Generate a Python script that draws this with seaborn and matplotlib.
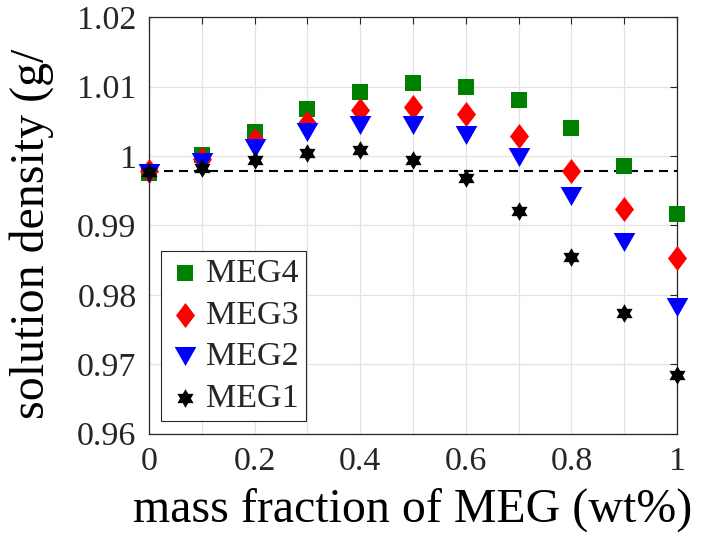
import numpy as np
import matplotlib
matplotlib.use("Agg")
import matplotlib.pyplot as plt
import seaborn as sns

# mass fraction of MEG and measured solution density
mass = [0.0, 0.1, 0.2, 0.3, 0.4, 0.5, 0.6, 0.7, 0.8, 0.9, 1.0]
meg4 = [0.9975, 1.0001, 1.0034, 1.0068, 1.0092, 1.0105, 1.0100, 1.0081, 1.0040, 0.9985, 0.9917]
meg3 = [0.9978, 0.9996, 1.0023, 1.0048, 1.0066, 1.0071, 1.0060, 1.0029, 0.9979, 0.9923, 0.9853]
meg2 = [0.9975, 0.9991, 1.0012, 1.0035, 1.0045, 1.0045, 1.0031, 0.9998, 0.9943, 0.9876, 0.9782]
meg1 = [0.9977, 0.9983, 0.9994, 1.0005, 1.0008, 0.9995, 0.9969, 0.9921, 0.9854, 0.9774, 0.9684]
water = 0.9979

xticks = [0, 0.1, 0.2, 0.3, 0.4, 0.5, 0.6, 0.7, 0.8, 0.9, 1.0]
xticklabels = ["0", "", "0.2", "", "0.4", "", "0.6", "", "0.8", "", "1"]
yticks = [0.96, 0.97, 0.98, 0.99, 1.00, 1.01, 1.02]
yticklabels = ["0.96", "0.97", "0.98", "0.99", "1", "1.01", "1.02"]

sns.set_theme(style="white")
plt.rcParams["font.family"] = ["Liberation Serif", "DejaVu Serif"]

fig = plt.figure(figsize=(7.01, 5.34), dpi=100)
ax = fig.add_axes([0.2126, 0.1882, 0.7532, 0.7794])

# marker shapes (MATLAB-like)
diamond = [(0, 1), (0.76, 0), (0, -1), (-0.76, 0)]
tri_down = [(-1, 0.876), (1, 0.876), (0, -0.876)]
ang = np.pi / 2 + np.arange(12) * np.pi / 6
rad = np.where(np.arange(12) % 2 == 0, 1.0, 0.577)
hexagram = list(zip(rad * np.cos(ang), rad * np.sin(ang)))

kw = dict(linewidth=0, clip_on=False, zorder=3)
sns.scatterplot(x=mass, y=meg4, marker="s", s=117, color="#008000", label="MEG4", ax=ax, **kw)
sns.scatterplot(x=mass, y=meg3, marker=diamond, s=324, color="#ff0000", label="MEG3", ax=ax, **kw)
sns.scatterplot(x=mass, y=meg2, marker=tri_down, s=244, color="#0000ff", label="MEG2", ax=ax, **kw)
sns.scatterplot(x=mass, y=meg1, marker=hexagram, s=180, color="black", label="MEG1", ax=ax, **kw)

ax.axhline(water, color="black", linewidth=1.5, dashes=(4.3, 2.9), zorder=2)

ax.set_xlim(0, 1)
ax.set_ylim(0.96, 1.02)
ax.set_xticks(xticks)
ax.set_xticklabels(xticklabels)
ax.set_yticks(yticks)
ax.set_yticklabels(yticklabels)
ax.tick_params(direction="in", length=5, width=0.8, top=True, right=True,
               labelsize=24.5, colors="#262626", pad=9)
ax.grid(True, color="#e3e3e3", linewidth=0.9)
ax.set_axisbelow(True)
for sp in ax.spines.values():
    sp.set_color("#262626")
    sp.set_linewidth(0.9)

ax.set_xlabel("mass fraction of MEG (wt%)", fontsize=34.5, color="black", labelpad=8)
ax.set_ylabel("solution density (g/", fontsize=34.5, color="black")
ax.yaxis.set_label_coords(-0.18, 0.48)

leg = ax.legend(loc="lower left", bbox_to_anchor=(0.0231, 0.0303), borderaxespad=0,
                fontsize=24.5, frameon=True, fancybox=False, framealpha=1,
                edgecolor="#262626", handlelength=1.0, handletextpad=0.12,
                labelspacing=0.32, borderpad=0.2)
leg.get_frame().set_linewidth(0.8)

fig.savefig("out.png", dpi=100)
